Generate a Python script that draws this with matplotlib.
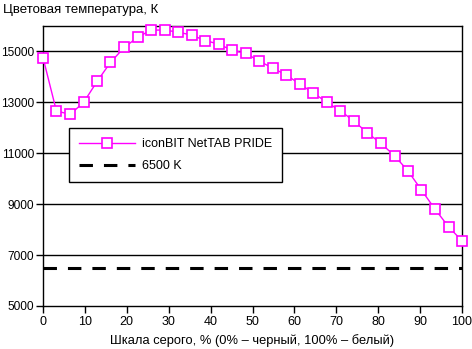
import matplotlib
matplotlib.use("Agg")
import matplotlib.pyplot as plt

plt.rcParams['font.family'] = ['Liberation Sans', 'DejaVu Sans']

x_vals = [0, 3.2, 6.5, 9.7, 12.9, 16.1, 19.4, 22.6, 25.8, 29.0, 32.3, 35.5, 38.7,
          41.9, 45.2, 48.4, 51.6, 54.8, 58.1, 61.3, 64.5, 67.7, 71.0, 74.2, 77.4,
          80.6, 83.9, 87.1, 90.3, 93.5, 96.8, 100]
temps = [14760, 12660, 12530, 13000, 13820, 14570, 15160, 15560, 15840, 15840,
         15760, 15640, 15430, 15290, 15040, 14930, 14620, 14350, 14070, 13720,
         13370, 13010, 12660, 12270, 11800, 11400, 10900, 10310, 9560, 8820,
         8110, 7560]
ref_x = [0, 100]
ref_y = [6500, 6500]
series_label = "iconBIT NetTAB PRIDE"
ref_label = "6500 K"
x_ticks = [0, 10, 20, 30, 40, 50, 60, 70, 80, 90, 100]
y_ticks = [5000, 7000, 9000, 11000, 13000, 15000]

fig = plt.figure(figsize=(4.72, 3.49), dpi=100)
W, H = 472, 349
ax = fig.add_axes([43 / W, 1 - 306 / H, (462 - 43) / W, (306 - 26) / H])

for yt in y_ticks[1:]:
    ax.axhline(yt, color='black', lw=1.0, zorder=1)

ax.plot(x_vals, temps, color='#ff00ff', lw=1.0, marker='s', markersize=7.2,
        markerfacecolor='white', markeredgecolor='#ff00ff', markeredgewidth=1.2,
        label=series_label, zorder=3, clip_on=False)
ax.plot(ref_x, ref_y, color='black', lw=2.2, dashes=(4.4, 3.6),
        label=ref_label, zorder=2)

ax.set_xlim(0, 100)
ax.set_ylim(5000, 16000)
ax.set_xticks(x_ticks)
ax.set_yticks(y_ticks)
ax.tick_params(direction='out', length=5, width=1, labelsize=9, colors='black', pad=2)
ax.tick_params(axis='y', labelsize=8.6, pad=1.5)
for s in ax.spines.values():
    s.set_linewidth(1.0)
    s.set_color('black')

fig.text(3 / W, 1 - 10 / H, "Цветовая температура, К", fontsize=9.5, va='center', ha='left')
fig.text((43 + 462) / 2 / W, 1 - 341 / H, "Шкала серого, % (0% – черный, 100% – белый)",
         fontsize=9.3, va='center', ha='center')

leg = ax.legend(loc='upper left', bbox_to_anchor=(69 / W, 1 - 128 / H),
                bbox_transform=fig.transFigure, fancybox=False, framealpha=1,
                edgecolor='black', fontsize=9, handlelength=4.5, borderpad=0.8,
                labelspacing=0.8, handletextpad=0.5, borderaxespad=0)
leg.get_frame().set_linewidth(1.0)

fig.savefig("out.png", dpi=100)
